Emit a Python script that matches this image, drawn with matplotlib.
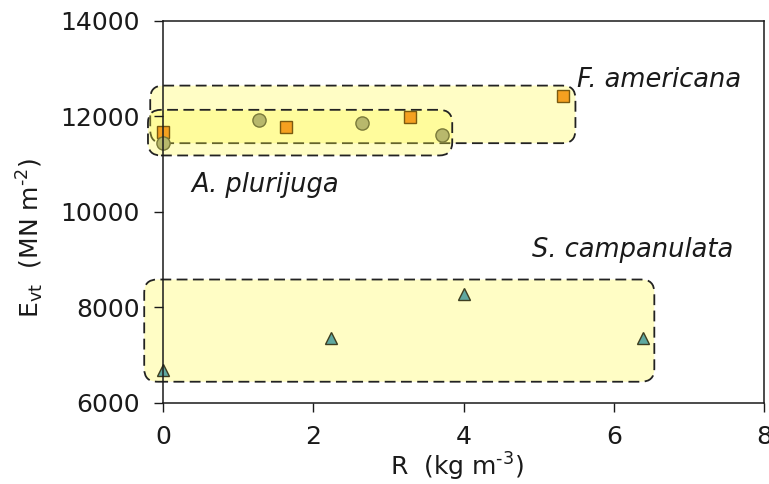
import matplotlib
matplotlib.use("Agg")
import matplotlib.pyplot as plt
from matplotlib.patches import FancyBboxPatch

# ---- data ----
fa_x = [0.0, 1.64, 3.29, 5.32]
fa_y = [11680, 11770, 11980, 12430]
ap_x = [0.0, 1.28, 2.65, 3.72]
ap_y = [11450, 11925, 11855, 11600]
sc_x = [0.0, 2.24, 4.0, 6.39]
sc_y = [6700, 7350, 8280, 7350]

species = ["F. americana", "A. plurijuga", "S. campanulata"]
x_ticks = [0, 2, 4, 6, 8]
y_ticks = [6000, 8000, 10000, 12000, 14000]

plt.rcParams['font.family'] = ['DejaVu Sans']
plt.rcParams['mathtext.default'] = 'regular'

fig = plt.figure(figsize=(7.69, 4.84), dpi=100)
ax = fig.add_axes([163/769, 1-403/484, (764-163)/769, (403-20.7)/484])
ax.set_xlim(0, 8)
ax.set_ylim(6000, 14000)
ax.set_xticks(x_ticks)
ax.set_yticks(y_ticks)
ax.set_xticklabels([str(v) for v in x_ticks])
ax.set_yticklabels([str(v) for v in y_ticks])
ax.tick_params(direction='out', length=6.5, width=1.0, labelsize=18, colors='#1a1a1a')
ax.tick_params(axis='x', pad=9)
ax.tick_params(axis='y', pad=10)
for s in ax.spines.values():
    s.set_linewidth(1.1)
    s.set_color('#1a1a1a')

# rounded boxes with pixel-consistent corners
p0 = ax.transData.transform((0, 0))
p1 = ax.transData.transform((1, 1))
sx = p1[0] - p0[0]
sy = p1[1] - p0[1]
aspect = sx / sy
r_px = 13

def box(x0, x1, y0, y1):
    p = FancyBboxPatch((x0, y0), x1 - x0, y1 - y0,
                       boxstyle=f"round,pad=0,rounding_size={r_px/sx}",
                       mutation_aspect=aspect,
                       facecolor=(1.0, 0.98, 0.25, 0.3), edgecolor='#222222',
                       linewidth=1.3, linestyle=(0, (6.0, 3.0)), clip_on=False, zorder=1)
    ax.add_patch(p)

box(-0.17, 5.49, 11437, 12642)
box(-0.20, 3.85, 11180, 12135)
box(-0.25, 6.54, 6445, 8584)

ax.plot(fa_x, fa_y, linestyle='none', marker='s', ms=9, mfc='#F5A020', mec='#7A5A10',
        mew=1.0, clip_on=False, zorder=2)
ax.plot(ap_x, ap_y, linestyle='none', marker='o', ms=9.5, mfc='#B8B86C', mec='#7A7A3A',
        mew=1.0, clip_on=False, zorder=2.1)
ax.plot(sc_x, sc_y, linestyle='none', marker='^', ms=9, mfc='#5FA8A0', mec='#3E3E20',
        mew=1.0, clip_on=False, zorder=2.2)

tkw = dict(fontsize=18.5, style='italic', color='#1a1a1a', ha='left', va='baseline')
ax.text(5.507, 12615, species[0], **tkw)
ax.text(0.383, 10407, species[1], **tkw)
ax.text(4.916, 9050, species[2], **tkw)

fig.text(30/769, 1-238/484, 'E$_{vt}$  (MN m$^{\u20102}$)', rotation=90,
         ha='center', va='center', fontsize=18, color='#1a1a1a')
fig.text(457/769, 1-467/484, 'R  (kg m$^{\u20103}$)', ha='center', va='center',
         fontsize=18, color='#1a1a1a')

fig.savefig('out.png', dpi=100)
